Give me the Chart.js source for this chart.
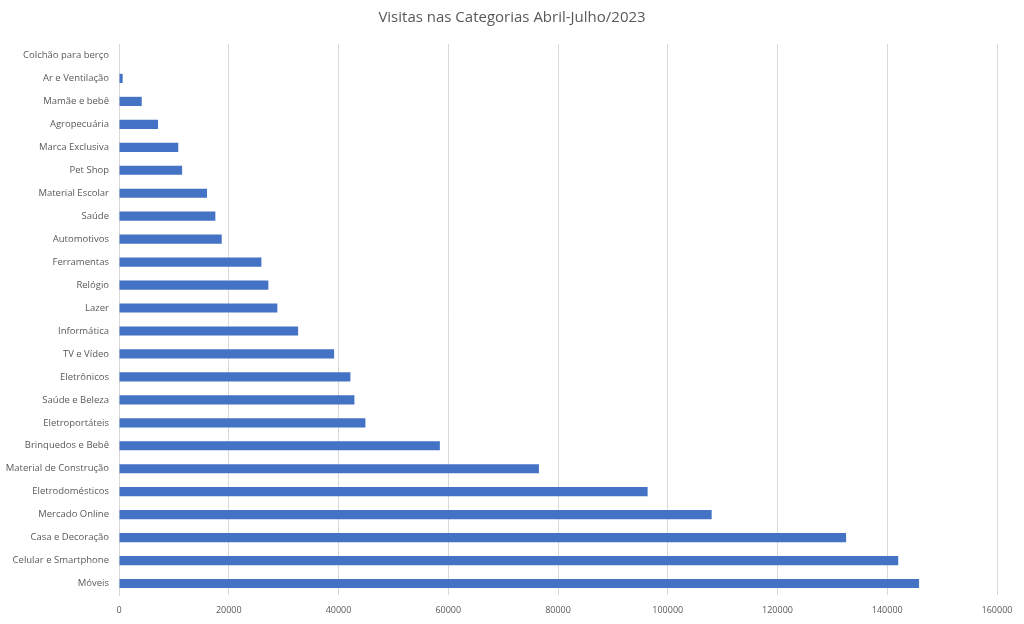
<!DOCTYPE html>
<html>
<head>
<meta charset="utf-8">
<script src="https://cdn.jsdelivr.net/npm/chart.js@4"></script>
<style>
  html, body { margin: 0; padding: 0; background: #fff; }
  #wrap { width: 1024px; height: 624px; }
</style>
</head>
<body>
<div id="wrap"><canvas id="visitasChart"></canvas></div>
<script>
// categorias de cima para baixo
const categorias = [
    'Colchão para berço', 'Ar e Ventilação', 'Mamãe e bebê', 'Agropecuária',
    'Marca Exclusiva', 'Pet Shop', 'Material Escolar', 'Saúde', 'Automotivos',
    'Ferramentas', 'Relógio', 'Lazer', 'Informática', 'TV e Vídeo', 'Eletrônicos',
    'Saúde e Beleza', 'Eletroportáteis', 'Brinquedos e Bebê', 'Material de Construção',
    'Eletrodomésticos', 'Mercado Online', 'Casa e Decoração', 'Celular e Smartphone', 'Móveis'
];
const visitas = [
    0, 670, 4140, 7110,
    10800, 11500, 16040, 17560, 18720,
    25950, 27220, 28860, 32640, 39200, 42170,
    42900, 44900, 58470, 76520,
    96330, 108000, 132500, 142000, 145800
];
const ticksX = [0, 20000, 40000, 60000, 80000, 100000, 120000, 140000, 160000];

const ctx = document.getElementById('visitasChart').getContext('2d');
const visitasChart = new Chart(ctx, {
    type: 'bar',
    data: {
        labels: categorias,
        datasets: [{
            label: 'Visitas',
            data: visitas,
            backgroundColor: '#4472C4',
            barPercentage: 0.8,
            categoryPercentage: 0.5
        }]
    },
    options: {
        indexAxis: 'y',
        responsive: true,
        maintainAspectRatio: false,
        animation: false,
        layout: { padding: 0 },
        plugins: {
            legend: { display: false },
            tooltip: { enabled: false },
            title: {
                display: true,
                text: 'Visitas nas Categorias Abril-Julho/2023',
                color: '#595959',
                font: { family: 'Open Sans', size: 15, weight: 'normal' },
                padding: { top: 9, bottom: 17 }
            }
        },
        scales: {
            x: {
                min: 0,
                max: 160000,
                afterBuildTicks: (scale) => { scale.ticks = ticksX.map(v => ({ value: v })); },
                afterFit: (scale) => { scale.height = 29; scale.paddingRight = 27; },
                grid: { color: '#d9d9d9', drawTicks: false },
                border: { display: false },
                ticks: {
                    color: '#595959',
                    font: { family: 'Open Sans', size: 9 },
                    padding: 10,
                    maxRotation: 0,
                    callback: (v) => String(v)
                }
            },
            y: {
                afterFit: (scale) => { scale.width = 119; },
                grid: { display: false, drawTicks: false },
                border: { display: true, color: '#d9d9d9' },
                ticks: {
                    color: '#595959',
                    font: { family: 'Open Sans', size: 9.5 },
                    padding: 10,
                    autoSkip: false
                }
            }
        }
    }
});
</script>
</body>
</html>
